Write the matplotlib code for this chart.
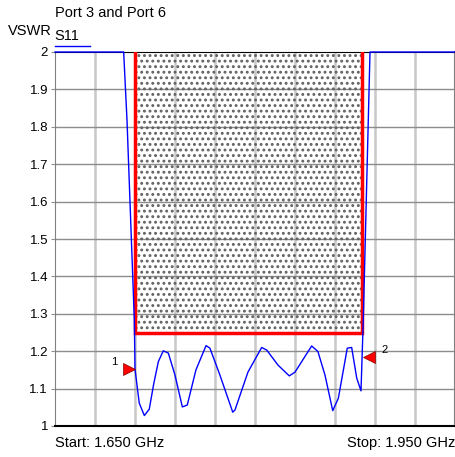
import numpy as np
import matplotlib.pyplot as plt

plt.rcParams['font.family'] = ['Liberation Sans', 'DejaVu Sans']
plt.rcParams['hatch.linewidth'] = 1.3

# S11 VSWR trace, frequency in GHz
freq = [1.650, 1.7015, 1.704, 1.7095, 1.710, 1.7132, 1.7170, 1.7207, 1.7239,
        1.7275, 1.7312, 1.7350, 1.7400, 1.7455, 1.7492, 1.7557, 1.7633,
        1.7662, 1.7737, 1.7833, 1.7850, 1.7947, 1.8050, 1.8088, 1.8172,
        1.8257, 1.8300, 1.8425, 1.8472, 1.8525, 1.8583, 1.8625, 1.8692,
        1.8725, 1.8763, 1.8795, 1.8812, 1.88625, 1.950]
vswr = [2.0, 2.0, 1.818, 1.283, 1.152, 1.061, 1.028, 1.045, 1.110,
        1.172, 1.201, 1.195, 1.136, 1.051, 1.056, 1.150, 1.215,
        1.208, 1.136, 1.037, 1.043, 1.144, 1.210, 1.203, 1.163,
        1.134, 1.144, 1.214, 1.199, 1.136, 1.041, 1.074, 1.208,
        1.210, 1.128, 1.094, 1.283, 2.0, 2.0]

# limit mask
mask_f = [1.71, 1.88]
mask_v = 1.25

markers_f = [1.710, 1.8812]
markers_v = [1.152, 1.184]
markers_lbl = ['1', '2']

fig = plt.figure(figsize=(4.56, 4.57), dpi=100)
ax = fig.add_axes([55/456, 31/457, 400/456, 374/457])

ax.set_xlim(1.65, 1.95)
ax.set_ylim(1.0, 2.0)
ax.set_xticks(np.linspace(1.65, 1.95, 11))
ax.set_yticks(np.round(np.arange(1.0, 2.01, 0.1), 1))
ax.set_yticklabels(['1', '1.1', '1.2', '1.3', '1.4', '1.5', '1.6', '1.7', '1.8', '1.9', '2'])
ax.tick_params(axis='x', length=0, labelbottom=False)
ax.tick_params(axis='y', length=3, color='#909090', labelsize=9.5, pad=2)

for xv in np.linspace(1.65, 1.95, 11)[1:-1]:
    ax.axvline(xv, color='#c8c8c8', lw=1.8, zorder=1)
for yv in np.arange(1.1, 2.0, 0.1):
    ax.axhline(yv, color='#8c8c8c', lw=1, zorder=1)

ax.fill_between(mask_f, mask_v, 2.0, facecolor='none', edgecolor='#606060',
                hatch='...', linewidth=0, zorder=2)
ax.plot([mask_f[0], mask_f[0], mask_f[1], mask_f[1]], [2.0, mask_v, mask_v, 2.0],
        color='#ff0000', lw=2.5, zorder=3, solid_joinstyle='miter')

ax.plot(freq, np.minimum(vswr, 2.0), color='#0000ff', lw=1, zorder=4, clip_on=False)

ax.plot(markers_f[0] - 0.0045, markers_v[0], marker='>', color='#ff0000',
        markeredgecolor='#800000', markeredgewidth=0.5, markersize=9, zorder=5)
ax.text(markers_f[0] - 0.0135, markers_v[0] + 0.005, markers_lbl[0], fontsize=8,
        ha='right', va='bottom')
ax.plot(markers_f[1] + 0.0045, markers_v[1], marker='<', color='#ff0000',
        markeredgecolor='#800000', markeredgewidth=0.5, markersize=9, zorder=5)
ax.text(markers_f[1] + 0.0135, markers_v[1] + 0.005, markers_lbl[1], fontsize=8,
        ha='left', va='bottom')

ax.spines['top'].set_color('black')
ax.spines['bottom'].set_color('black')
ax.spines['bottom'].set_linewidth(1.5)
ax.spines['left'].set_color('#808080')
ax.spines['right'].set_color('#808080')
ax.spines['right'].set_linewidth(1.5)

fig.text(52/456, 1 - 35/457, 'VSWR', ha='right', va='baseline', fontsize=10.5)
fig.text(54/456, 1 - 40/457, 'S11', ha='left', va='baseline', fontsize=10.5)
fig.add_artist(plt.Line2D([55/456, 90/456], [1 - 45.5/457, 1 - 45.5/457],
                          color='#0000ff', lw=1))
fig.text(55/456, 1 - 17/457, 'Port 3 and Port 6', ha='left', va='baseline', fontsize=10.5)

fig.text(55/456, 1 - 447/457, 'Start: 1.650 GHz', ha='left', va='baseline', fontsize=10.5)
fig.text(455/456, 1 - 447/457, 'Stop: 1.950 GHz', ha='right', va='baseline', fontsize=10.5)

fig.savefig('out.png', dpi=100)
